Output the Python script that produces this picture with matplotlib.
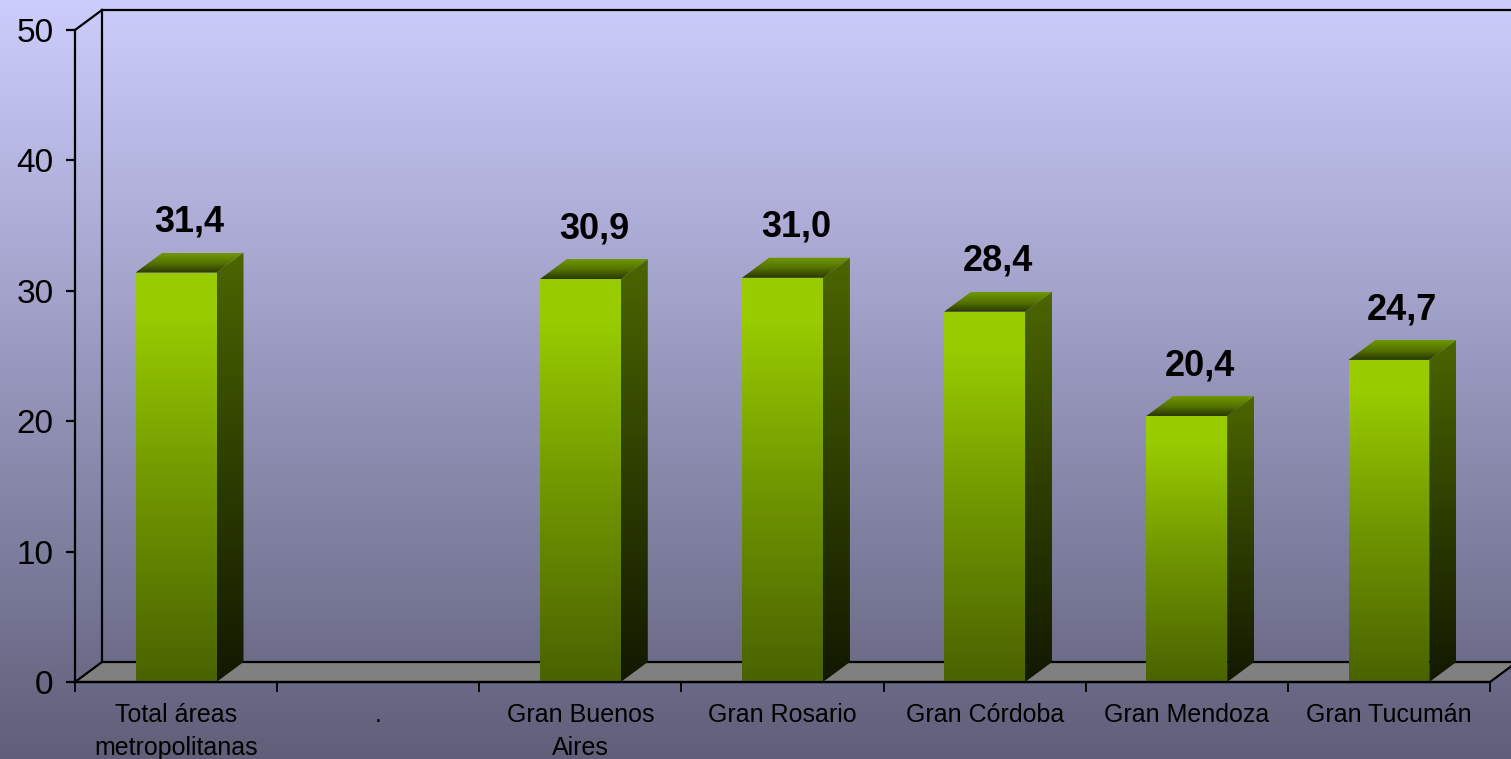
import numpy as np
import matplotlib.pyplot as plt
from matplotlib.patches import Polygon
from matplotlib.colors import LinearSegmentedColormap

plt.rcParams["font.family"] = ["Liberation Sans", "DejaVu Sans"]

# --- data ---
categories = [
    "Total áreas\nmetropolitanas",
    ".",
    "Gran Buenos\nAires",
    "Gran Rosario",
    "Gran Córdoba",
    "Gran Mendoza",
    "Gran Tucumán",
]
values = [31.4, np.nan, 30.9, 31.0, 28.4, 20.4, 24.7]
y_ticks = [0, 10, 20, 30, 40, 50]

# --- geometry (pixels of a 1511x759 canvas) ---
W, H = 1511, 759
AX_L, AX_R, AX_T, AX_B = 75, 1490, 30, 682
DEPTH_PX = (27, 20)
n = len(categories)
DX = DEPTH_PX[0] / ((AX_R - AX_L) / n)
DY = DEPTH_PX[1] / ((AX_B - AX_T) / 50)
BAR_W = 0.4

fig = plt.figure(figsize=(W / 100, H / 100), dpi=100)

# background gradient
bg = fig.add_axes([0, 0, 1, 1], zorder=0)
bg_cmap = LinearSegmentedColormap.from_list("bg", ["#5f5f79", "#9696bc", "#cdcdfd"])
bg.imshow(np.linspace(0, 1, 256).reshape(-1, 1), cmap=bg_cmap, aspect="auto",
          origin="lower", extent=[0, 1, 0, 1])
bg.axis("off")

ax = fig.add_axes([AX_L / W, (H - AX_B) / H, (AX_R - AX_L) / W, (AX_B - AX_T) / H], zorder=1)
ax.patch.set_alpha(0)

front_cmap = LinearSegmentedColormap.from_list(
    "front", [(0, "#4a6200"), (0.5, "#729900"), (0.9, "#99cc00"), (1, "#99cc00")])
side_cmap = LinearSegmentedColormap.from_list(
    "side", [(0, "#121800"), (0.5, "#2e3e00"), (1, "#4c6600")])
top_cmap = LinearSegmentedColormap.from_list(
    "top", [(0, "#2a3800"), (0.5, "#557400"), (1, "#6f9800")])
grad = np.linspace(0, 1, 256).reshape(-1, 1)


def shaded(poly_xy, extent, cmap):
    poly = Polygon(poly_xy, closed=True, facecolor="none", edgecolor="none")
    ax.add_patch(poly)
    im = ax.imshow(grad, cmap=cmap, aspect="auto", origin="lower",
                   extent=extent, zorder=3)
    im.set_clip_path(poly)


# floor
floor = Polygon([(0, 0), (n, 0), (n + DX, DY), (DX, DY)], closed=True,
                facecolor="#808080", edgecolor="black", lw=1.6, clip_on=False, zorder=2)
ax.add_patch(floor)

# back wall outline
ax.plot([0, DX], [50, 50 + DY], color="black", lw=1.6, clip_on=False, zorder=2)
ax.plot([DX, DX], [DY, 50 + DY], color="black", lw=1.6, clip_on=False, zorder=2)
ax.plot([DX, n + DX + 1], [50 + DY, 50 + DY], color="black", lw=1.6, clip_on=False, zorder=2)

# bars
for i, v in enumerate(values):
    if np.isnan(v):
        continue
    x0 = i + 0.5 - BAR_W / 2
    x1 = i + 0.5 + BAR_W / 2
    shaded([(x0, 0), (x1, 0), (x1, v), (x0, v)], [x0, x1, 0, v], front_cmap)
    shaded([(x1, 0), (x1 + DX, DY), (x1 + DX, v + DY), (x1, v)],
           [x1, x1 + DX, 0, v + DY], side_cmap)
    shaded([(x0, v), (x1, v), (x1 + DX, v + DY), (x0 + DX, v + DY)],
           [x0, x1 + DX, v, v + DY], top_cmap)
    ax.annotate(f"{v:.1f}".replace(".", ","), xy=(i + 0.5 + DX / 2, v + DY),
                xytext=(0, 15), textcoords="offset points", ha="center",
                va="baseline", fontsize=26, fontweight="bold", color="black", zorder=5)

ax.set_xlim(0, n)
ax.set_ylim(0, 50)

for s in ["top", "right"]:
    ax.spines[s].set_visible(False)
for s in ["left", "bottom"]:
    ax.spines[s].set_linewidth(1.6)
    ax.spines[s].set_zorder(4)

ax.set_yticks(y_ticks)
ax.set_yticklabels([str(t) for t in y_ticks])
ax.tick_params(axis="y", direction="out", length=6.5, width=1.6, pad=9,
               labelsize=24, colors="black")

ax.set_xticks(range(n + 1))
ax.set_xticklabels([])
ax.tick_params(axis="x", which="major", direction="out", length=7, width=1.3)
ax.set_xticks(np.arange(n) + 0.5, minor=True)
ax.set_xticklabels(categories, minor=True, fontsize=18, linespacing=1.5)
ax.tick_params(axis="x", which="minor", length=0, pad=15)

fig.savefig("out.png", dpi=100)
